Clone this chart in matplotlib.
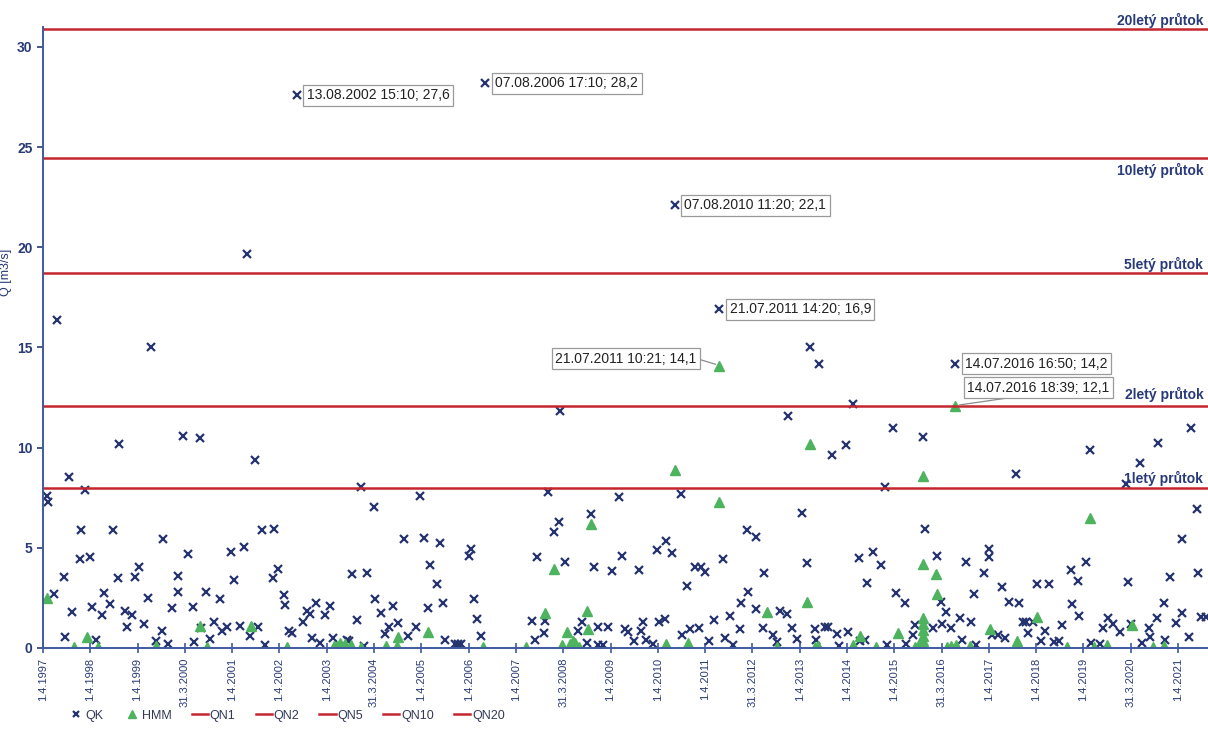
import datetime as dt
import matplotlib.pyplot as plt

plt.rcParams['font.family'] = ['Liberation Sans', 'DejaVu Sans']

# kulminační průtoky - QK (rok jako desetinné číslo, Q v m3/s)
qk_rok = [1997.34, 1997.36, 1997.48, 1997.54, 1997.68, 1997.72, 1997.80, 1997.87, 1998.02, 1998.05,
          1998.14, 1998.23, 1998.29, 1998.37, 1998.49, 1998.54, 1998.67, 1998.72, 1998.84, 1998.85,
          1998.98, 1999.03, 1999.12, 1999.19, 1999.28, 1999.39, 1999.46, 1999.53, 1999.64, 1999.76,
          1999.79, 1999.88, 1999.97, 2000.10, 2000.11, 2000.20, 2000.32, 2000.41, 2000.44, 2000.57,
          2000.59, 2000.69, 2000.78, 2000.86, 2000.98, 2001.03, 2001.13, 2001.22, 2001.28, 2001.42,
          2001.50, 2001.56, 2001.63, 2001.72, 2001.79, 2001.88, 2001.94, 2002.10, 2002.14, 2002.22,
          2002.34, 2002.37, 2002.45, 2002.52, 2002.62, 2002.75, 2002.82, 2002.89, 2002.93, 2003.02,
          2003.11, 2003.21, 2003.32, 2003.37, 2003.67, 2003.72, 2003.78, 2003.89, 2003.96, 2004.04,
          2004.10, 2004.24, 2004.27, 2004.39, 2004.47, 2004.57, 2004.64, 2004.75, 2004.89, 2004.97,
          2005.13, 2005.22, 2005.30, 2005.39, 2005.44, 2005.57, 2005.65, 2005.71, 2005.75, 2005.96,
          2006.03, 2006.09, 2006.26, 2006.30, 2006.35, 2006.43, 2006.50, 2006.60, 2007.58, 2007.65,
          2007.69, 2007.83, 2007.86, 2007.93, 2008.06, 2008.16, 2008.17, 2008.28, 2008.55, 2008.65,
          2008.75, 2008.83, 2008.89, 2008.98, 2008.99, 2009.09, 2009.19, 2009.27, 2009.42, 2009.48,
          2009.55, 2009.61, 2009.74, 2009.84, 2009.90, 2009.94, 2009.99, 2010.15, 2010.22, 2010.28,
          2010.40, 2010.42, 2010.55, 2010.60, 2010.74, 2010.75, 2010.86, 2010.93, 2011.04, 2011.12,
          2011.16, 2011.24, 2011.33, 2011.43, 2011.55, 2011.63, 2011.66, 2011.77, 2011.84, 2011.99,
          2012.01, 2012.14, 2012.16, 2012.32, 2012.33, 2012.47, 2012.50, 2012.68, 2012.76, 2012.84,
          2012.98, 2013.00, 2013.09, 2013.18, 2013.29, 2013.41, 2013.46, 2013.58, 2013.60, 2013.65,
          2013.78, 2013.85, 2013.93, 2014.03, 2014.08, 2014.22, 2014.27, 2014.37, 2014.51, 2014.52,
          2014.63, 2014.68, 2014.80, 2014.97, 2015.04, 2015.10, 2015.22, 2015.28, 2015.47, 2015.50,
          2015.64, 2015.68, 2015.86, 2015.89, 2016.06, 2016.14, 2016.24, 2016.25, 2016.33, 2016.45,
          2016.53, 2016.63, 2016.67, 2016.76, 2016.87, 2016.94, 2016.98, 2017.15, 2017.24, 2017.25,
          2017.31, 2017.45, 2017.52, 2017.59, 2017.68, 2017.82, 2017.89, 2017.97, 2018.04, 2018.08,
          2018.18, 2018.27, 2018.35, 2018.44, 2018.52, 2018.63, 2018.74, 2018.80, 2018.98, 2019.00,
          2019.14, 2019.15, 2019.30, 2019.39, 2019.40, 2019.60, 2019.66, 2019.77, 2019.87, 2020.01,
          2020.14, 2020.18, 2020.26, 2020.45, 2020.49, 2020.64, 2020.65, 2020.81, 2020.82, 2020.96,
          2020.98, 2021.07, 2021.21, 2021.32, 2021.33, 2021.48, 2021.53, 2021.65, 2021.66, 2021.74,
          2021.83]
qk_q = [7.59, 7.30, 2.68, 16.38, 3.53, 0.56, 8.55, 1.78, 4.43, 5.89,
        7.89, 4.56, 2.05, 0.40, 1.65, 2.75, 2.21, 5.89, 3.48, 10.18,
        1.85, 1.05, 1.65, 3.56, 4.03, 1.18, 2.51, 15.01, 0.37, 0.86,
        5.43, 0.20, 1.98, 3.59, 2.81, 10.58, 4.68, 2.03, 0.31, 10.50,
        0.98, 2.78, 0.46, 1.31, 2.45, 0.86, 1.05, 4.78, 3.38, 1.11,
        5.06, 19.67, 0.61, 9.38, 1.06, 5.89, 0.15, 3.51, 5.96, 3.93,
        2.65, 2.15, 0.83, 0.73, 27.6, 1.31, 1.86, 1.70, 0.48, 2.26,
        0.26, 1.65, 2.11, 0.48, 0.40, 0.35, 3.69, 1.40, 8.05, 0.10,
        3.73, 7.02, 2.45, 1.73, 0.68, 1.06, 2.11, 1.23, 5.44, 0.60,
        1.03, 7.59, 5.48, 2.01, 4.14, 3.20, 5.22, 2.26, 0.40, 0.20,
        0.22, 0.18, 4.59, 4.96, 2.43, 1.46, 0.61, 28.2, 1.35, 0.40,
        4.56, 0.73, 1.35, 7.80, 5.81, 6.31, 11.83, 4.31, 0.86, 1.28,
        0.27, 6.67, 4.06, 1.06, 0.14, 0.14, 1.06, 3.84, 7.55, 4.61,
        0.96, 0.80, 0.37, 3.89, 0.86, 1.31, 0.40, 0.20, 4.89, 1.31,
        1.45, 5.36, 4.73, 22.1, 7.69, 0.65, 3.10, 0.93, 4.06, 0.98,
        4.06, 3.81, 0.37, 1.40, 16.9, 4.43, 0.48, 1.60, 0.15, 0.95,
        2.26, 5.89, 2.78, 5.53, 1.93, 0.98, 3.76, 0.65, 0.32, 1.86,
        1.68, 11.58, 1.01, 0.45, 6.72, 4.23, 15.04, 0.95, 0.40, 14.18,
        1.03, 1.05, 9.64, 0.70, 0.11, 10.13, 0.81, 12.18, 4.48, 0.35,
        0.40, 3.23, 4.81, 4.14, 8.02, 0.15, 10.97, 2.76, 2.26, 0.20,
        0.65, 1.15, 10.55, 5.92, 0.98, 4.59, 2.31, 1.20, 1.81, 1.01,
        14.2, 1.48, 0.40, 4.31, 1.31, 2.68, 0.15, 3.73, 4.93, 4.56,
        0.65, 0.65, 3.03, 0.48, 2.31, 8.69, 2.26, 1.31, 1.31, 0.73,
        1.31, 3.18, 0.37, 0.86, 3.18, 0.32, 0.37, 1.15, 3.89, 2.18,
        3.35, 1.60, 4.28, 9.86, 0.27, 0.20, 0.98, 1.48, 1.20, 0.81,
        8.19, 3.31, 1.20, 9.22, 0.27, 0.98, 0.56, 1.51, 10.25, 2.26,
        0.40, 3.53, 1.26, 5.44, 1.76, 0.56, 10.97, 6.94, 3.76, 1.53,
        1.53]

# HMM
hmm_rok = [1997.34, 1997.90, 1998.17, 1998.41, 1999.64, 2000.57, 2000.71, 2001.64, 2002.40, 2003.39,
           2003.46, 2003.52, 2003.64, 2003.75, 2003.96, 2004.49, 2004.73, 2004.76, 2005.38, 2006.56,
           2007.46, 2007.86, 2008.05, 2008.21, 2008.32, 2008.39, 2008.45, 2008.49, 2008.57, 2008.75,
           2008.76, 2008.83, 2010.41, 2010.61, 2010.89, 2011.55, 2011.55, 2012.55, 2012.76, 2013.41,
           2013.47, 2013.57, 2013.64, 2014.37, 2014.52, 2014.87, 2015.32, 2015.68, 2015.75, 2015.86,
           2015.86, 2015.86, 2015.86, 2015.86, 2015.86, 2015.86, 2015.86, 2016.13, 2016.14, 2016.36,
           2016.45, 2016.53, 2016.56, 2016.85, 2017.27, 2017.85, 2018.26, 2018.89, 2019.39, 2019.46,
           2019.74, 2020.27, 2020.72, 2020.96]
hmm_q = [2.51, 0.07, 0.53, 0.07, 0.10, 1.11, 0.07, 1.11, 0.07, 0.10,
         0.12, 0.25, 0.20, 0.15, 0.07, 0.10, 0.10, 0.56, 0.78, 0.07,
         0.07, 1.73, 3.94, 0.15, 0.81, 0.20, 0.35, 0.25, 0.07, 1.86,
         0.93, 6.19, 0.20, 8.89, 0.27, 7.27, 14.1, 1.78, 0.07, 2.31,
         10.18, 0.07, 0.10, 0.15, 0.61, 0.07, 0.73, 0.07, 0.10, 8.59,
         4.19, 1.50, 1.20, 0.90, 0.60, 0.35, 0.10, 3.68, 2.68, 0.05,
         0.10, 12.1, 0.15, 0.10, 0.93, 0.37, 1.56, 0.05, 6.47, 0.07,
         0.15, 1.15, 0.05, 0.10]

# N-leté průtoky
qn_nazvy = ['QN1', 'QN2', 'QN5', 'QN10', 'QN20']
qn_hodnoty = [8.0, 12.1, 18.7, 24.45, 30.9]
qn_popisky = ['1letý průtok', '2letý průtok', '5letý průtok', '10letý průtok', '20letý průtok']

osa_x_popisky = ['1.4.1997', '1.4.1998', '1.4.1999', '31.3.2000', '1.4.2001', '1.4.2002', '1.4.2003',
                 '31.3.2004', '1.4.2005', '1.4.2006', '1.4.2007', '31.3.2008', '1.4.2009', '1.4.2010',
                 '1.4.2011', '31.3.2012', '1.4.2013', '1.4.2014', '1.4.2015', '31.3.2016', '1.4.2017',
                 '1.4.2018', '1.4.2019', '31.3.2020', '1.4.2021']

# popisky vybraných kulminací (řada, text)
udalosti = [('QK', '13.08.2002 15:10; 27,6'),
            ('QK', '07.08.2006 17:10; 28,2'),
            ('QK', '07.08.2010 11:20; 22,1'),
            ('QK', '21.07.2011 14:20; 16,9'),
            ('HMM', '21.07.2011 10:21; 14,1'),
            ('QK', '14.07.2016 16:50; 14,2'),
            ('HMM', '14.07.2016 18:39; 12,1')]
# posun popisku v pixelech, zarovnani, spojnice
umisteni = [(10, 0, 'left', None), (10, 0, 'left', None), (10, 0, 'left', None),
            (10, 0, 'left', None), (-23, 7, 'right', (1, 0.5)), (10, 0, 'left', None),
            (12, 18, 'left', (0.45, 0))]
# posun textu N-letych prutoku
qn_posun = [9, 11, 9, -12, 9]


def na_rok(datum):
    casti = datum.split()
    d, m, r = [int(v) for v in casti[0].split('.')]
    h, mi = 0, 0
    if len(casti) > 1:
        h, mi = [int(v) for v in casti[1].split(':')]
    t = dt.datetime(r, m, d, h, mi)
    zac = dt.datetime(r, 1, 1)
    kon = dt.datetime(r + 1, 1, 1)
    return r + (t - zac) / (kon - zac)


navy = '#25336f'
modra_osa = '#3f5aa0'
cervena = '#c4262e'
zelena = '#4db35e'

fig = plt.figure(figsize=(12.08, 7.51), dpi=100)
ax = fig.add_axes([0.0356, 0.1372, 0.9644, 0.8269])

ax.plot(qk_rok, qk_q, linestyle='none', marker='x', color=navy, markersize=6, mew=1.6, label='QK')
ax.plot(hmm_rok, hmm_q, linestyle='none', marker='^', color=zelena, markersize=7, mec=zelena, label='HMM')
for nazev, q in zip(qn_nazvy, qn_hodnoty):
    ax.axhline(q, color=cervena, lw=1.8, label=nazev)

for q, txt, dy in zip(qn_hodnoty, qn_popisky, qn_posun):
    ax.annotate(txt, xy=(0.996, q), xycoords=('axes fraction', 'data'), xytext=(0, dy),
                textcoords='offset pixels', ha='right', va='center', fontsize=10,
                fontweight='bold', color='#283a7a')

for (rada, txt), (dx, dy, ha, rel) in zip(udalosti, umisteni):
    datum, hodnota = txt.split(';')
    x = na_rok(datum.strip())
    y = float(hodnota.strip().replace(',', '.'))
    arrow = None
    if rel is not None:
        arrow = dict(arrowstyle='-', color='#8a8a8a', lw=0.9, relpos=rel, shrinkA=0, shrinkB=3)
    ax.annotate(txt, xy=(x, y), xytext=(dx, dy), textcoords='offset pixels', ha=ha, va='center',
                fontsize=10, color='#222222', arrowprops=arrow,
                bbox=dict(boxstyle='square,pad=0.25', fc='white', ec='#9a9a9a', lw=0.9))

ax.set_xlim(1997.25, 2021.88)
ax.set_ylim(0, 31)
ax.set_xticks([na_rok(p) for p in osa_x_popisky])
ax.set_xticklabels(osa_x_popisky, rotation=90, fontsize=8, color='#2a3a78')
ax.set_yticks([0, 5, 10, 15, 20, 25, 30])
ax.tick_params(axis='y', labelsize=10, colors='#2a3a78', length=4, width=1.2)
for lab in ax.get_yticklabels():
    lab.set_fontweight('bold')
ax.tick_params(axis='x', direction='inout', length=7, width=1.2, colors=modra_osa, labelcolor='#2a3a78')
ax.set_ylabel('Q [m3/s]', fontsize=9, color='#2a3a78')
ax.yaxis.set_label_coords(-0.027, 0.605)

for s in ['top', 'right']:
    ax.spines[s].set_visible(False)
for s in ['left', 'bottom']:
    ax.spines[s].set_color(modra_osa)
    ax.spines[s].set_linewidth(1.4)

fig.legend(loc='center', bbox_to_anchor=(0.237, 0.047), ncol=7, frameon=False, fontsize=9,
           handlelength=1.3, handletextpad=0.15, columnspacing=1.6, markerscale=0.8,
           labelcolor='#333a55')

fig.savefig('out.png', dpi=100)
